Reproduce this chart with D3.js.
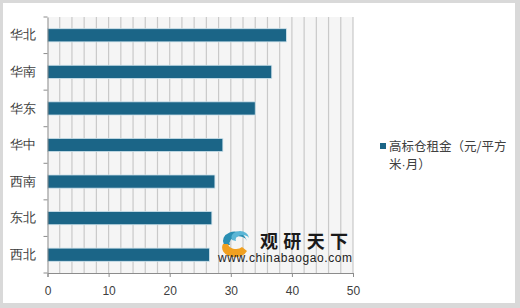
<!DOCTYPE html>
<html>
<head>
<meta charset="utf-8">
<script src="https://cdn.jsdelivr.net/npm/d3@7"></script>
<style>
    body { margin: 0; background: #d9d9d9; }
    svg { display: block; font-family: "Microsoft YaHei", "Noto Sans CJK SC", sans-serif; }
</style>
</head>
<body>
<svg></svg>
<script>
const regions = ["华北", "华南", "华东", "华中", "西南", "东北", "西北"];
const rents = [39.1, 36.7, 34.0, 28.7, 27.4, 26.9, 26.5];
const xTicks = [0, 10, 20, 30, 40, 50];
const seriesName = ["高标仓租金（元/平方", "米·月）"];

const width = 520, height = 308;
const svg = d3.select("svg").attr("width", width).attr("height", height);

// white panel inside grey frame
svg.append("rect").attr("x", 0).attr("y", 0).attr("width", width).attr("height", height).attr("fill", "#d9d9d9");
svg.append("rect").attr("x", 3).attr("y", 3).attr("width", 512).attr("height", 300).attr("fill", "#fff");

const plot = {left: 47.5, right: 353, top: 17, bottom: 273};

const x = d3.scaleLinear().domain([0, 50]).range([plot.left, plot.right]);
const y = d3.scaleBand().domain(regions).range([plot.top, plot.bottom]).paddingInner(0.64).paddingOuter(0.32);

svg.append("rect")
    .attr("x", plot.left).attr("y", plot.top)
    .attr("width", plot.right - plot.left).attr("height", plot.bottom - plot.top)
    .attr("fill", "#f5f5f5");

// minor vertical gridlines every 2
svg.append("g")
    .selectAll("line")
    .data(d3.range(2, 51, 2))
    .join("line")
    .attr("x1", d => x(d)).attr("x2", d => x(d))
    .attr("y1", plot.top).attr("y2", plot.bottom)
    .attr("stroke", "#c9c9c9").attr("stroke-width", 1.2);

// watermark (behind bars)
const wm = svg.append("g");
wm.append("path")
    .attr("d", "M224,245 A11,9 0 0 1 245,237 L247,241 A8,6 0 0 0 230,245 Z")
    .attr("fill", "#2a8fb3");
wm.append("path")
    .attr("d", "M232,240 A8,6 0 0 1 248,235 L249,238 A6,4 0 0 0 236,241 Z")
    .attr("fill", "#5bb6d6");
wm.append("path")
    .attr("d", "M223,244 A12,9 0 0 0 247,251 L242,247 A8,6 0 0 1 228,243 Z")
    .attr("fill", "#f0a020");
wm.append("text")
    .attr("x", 260).attr("y", 248)
    .attr("font-size", 18).attr("font-weight", "bold").attr("fill", "#1a1a1a")
    .attr("textLength", 88)
    .text("观研天下");
wm.append("text")
    .attr("x", 218).attr("y", 262)
    .attr("font-family", "Liberation Sans, Arial, sans-serif")
    .attr("font-size", 12).attr("fill", "#222")
    .attr("textLength", 134)
    .text("www.chinabaogao.com");

// bars
svg.append("g")
    .selectAll("rect")
    .data(regions)
    .join("rect")
    .attr("x", x(0))
    .attr("y", d => y(d))
    .attr("width", (d, i) => x(rents[i]) - x(0))
    .attr("height", y.bandwidth())
    .attr("fill", "#1b6587")
    .attr("stroke", "#cfe3ec").attr("stroke-width", 0.8);

// y axis
const yAxis = svg.append("g")
    .attr("transform", `translate(${plot.left},0)`)
    .call(d3.axisLeft(y).tickSize(0).tickPadding(12));
yAxis.select(".domain").attr("stroke", "#8c8c8c");
yAxis.selectAll("text").attr("font-size", 13).attr("fill", "#404040");
// category separator ticks
yAxis.selectAll(".sep")
    .data(d3.range(0, regions.length + 1))
    .join("line")
    .attr("class", "sep")
    .attr("x1", -4).attr("x2", 0)
    .attr("y1", d => plot.top + d * y.step()).attr("y2", d => plot.top + d * y.step())
    .attr("stroke", "#8c8c8c");

// x axis
const xAxis = svg.append("g")
    .attr("transform", `translate(0,${plot.bottom})`)
    .call(d3.axisBottom(x).tickValues(xTicks).tickSize(4).tickPadding(9));
xAxis.select(".domain").attr("stroke", "#8c8c8c");
xAxis.selectAll("line").attr("stroke", "#8c8c8c");
xAxis.selectAll("text").attr("font-size", 12).attr("fill", "#404040")
    .attr("font-family", "Liberation Sans, Arial, sans-serif");

// legend
const legend = svg.append("g");
legend.append("rect").attr("x", 380).attr("y", 143).attr("width", 6).attr("height", 6).attr("fill", "#1b6587");
const lt = legend.selectAll("text")
    .data(seriesName)
    .join("text")
    .attr("x", 389).attr("y", (d, i) => 151 + i * 17.5)
    .attr("font-size", 12.5).attr("fill", "#404040");
lt.selectAll("tspan")
    .data(d => d.split(/(·)/).filter(s => s.length))
    .join("tspan")
    .attr("font-family", s => s === "·" ? "Liberation Sans, Arial, sans-serif" : null)
    .text(s => s);
</script>
</body>
</html>
